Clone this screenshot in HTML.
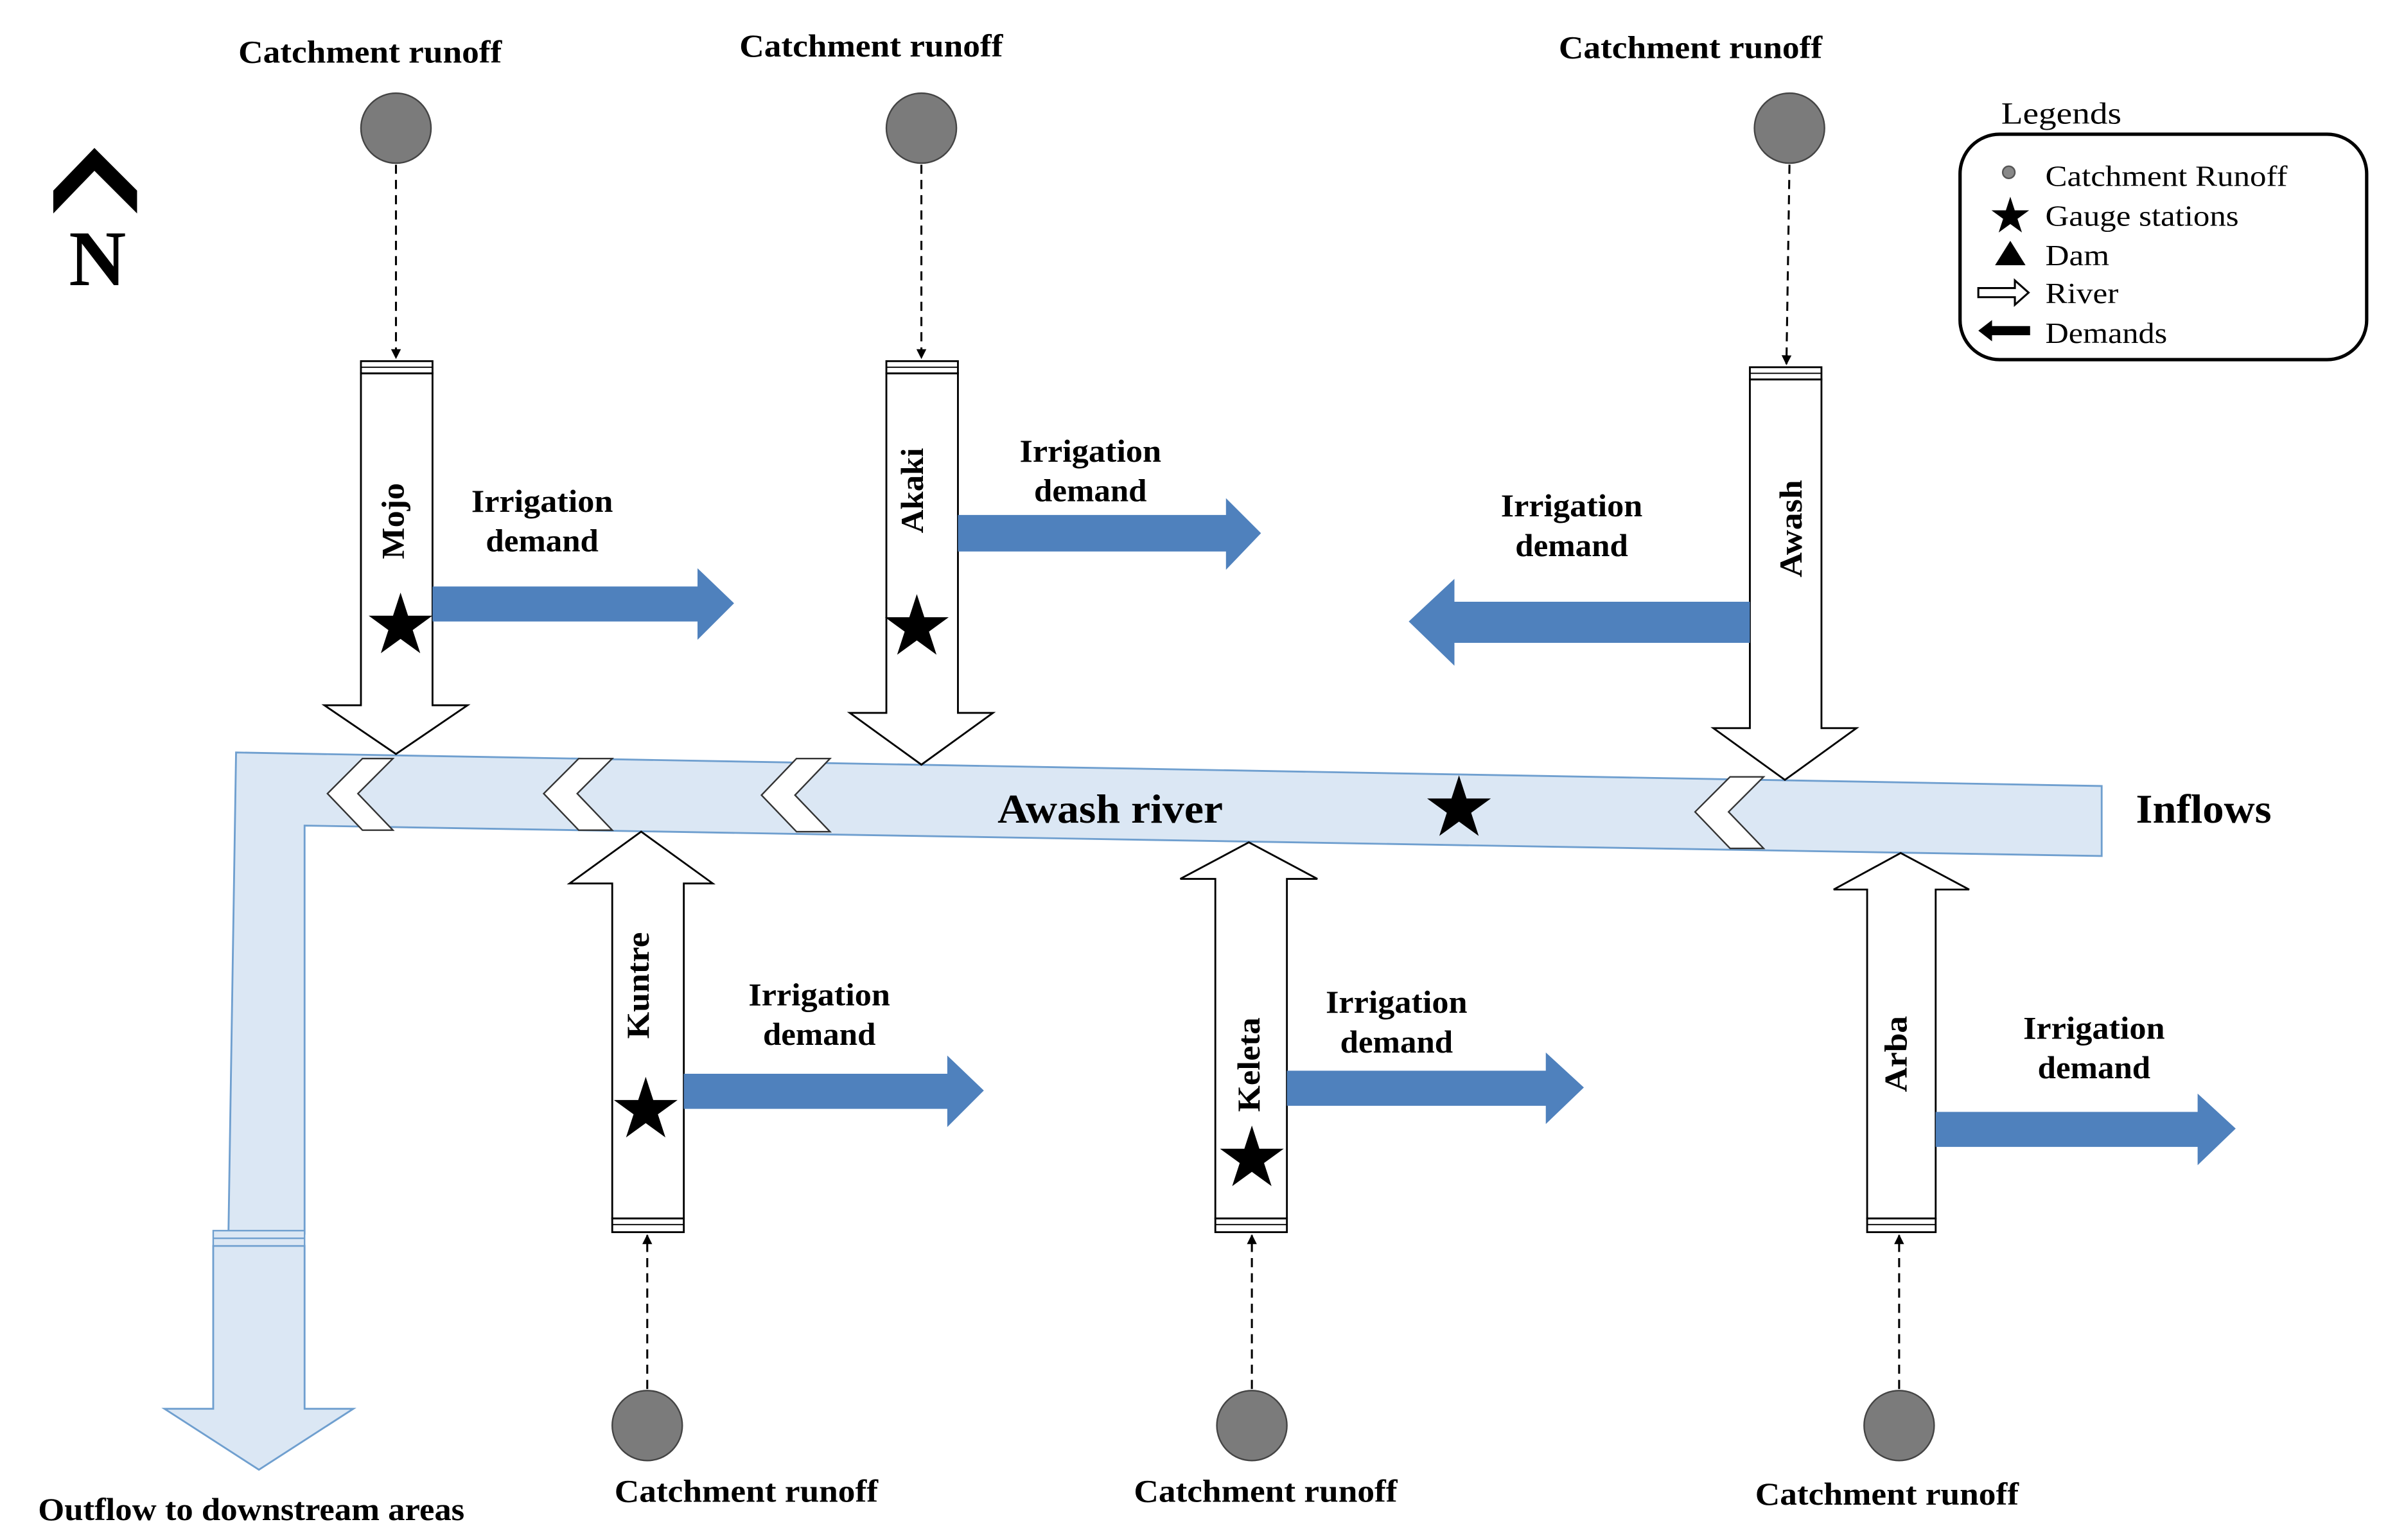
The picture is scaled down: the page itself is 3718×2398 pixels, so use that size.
<!DOCTYPE html>
<html><head><meta charset="utf-8"><style>
html,body{margin:0;padding:0;background:#fff}
svg{display:block}
text{font-family:"Liberation Serif",serif;font-weight:bold;fill:#000}
</style></head><body>
<svg width="3718" height="2398" viewBox="0 0 1568 1011" xmlns="http://www.w3.org/2000/svg">
<defs>
<marker id="ah" viewBox="0 0 10 10" refX="9" refY="5" markerWidth="5" markerHeight="7" orient="auto"><path d="M0,0 L10,5 L0,10 z" fill="#000"/></marker>
<symbol id="star" viewBox="-1 -1 2 2"><polygon points="0,-1 0.2245,-0.309 0.951,-0.309 0.363,0.118 0.588,0.809 0,0.382 -0.588,0.809 -0.363,0.118 -0.951,-0.309 -0.2245,-0.309" fill="#000"/></symbol>
</defs>

<!-- North -->
<polygon points="35,125 62,97 90,125 90,140 62,112 35,140" fill="#000"/>
<text x="64" y="187" font-size="52" text-anchor="middle">N</text>

<!-- River main -->
<path d="M155,494 L1380,516 L1380,562 L200,542 L200,810 L150,810 Z" fill="#dbe7f4" stroke="#6f9fcf" stroke-width="1.2"/>
<path d="M140,818 L200,818 L200,925 L232,925 L170,965 L108,925 L140,925 Z" fill="#dbe7f4" stroke="#6f9fcf" stroke-width="1.2"/>
<rect x="140" y="808" width="60" height="10" fill="#dbe7f4" stroke="#6f9fcf" stroke-width="1"/>
<line x1="140" y1="813" x2="200" y2="813" stroke="#6f9fcf" stroke-width="1"/>

<!-- Chevrons -->
<g fill="#fff" stroke="#333" stroke-width="1">
<polygon points="238,498 258,498 235,521 258,545 238,545 215,521"/>
<polygon points="380,498 402,498 379,521 402,545 380,545 357,521"/>
<polygon points="523,498 545,498 522,522 545,546 523,546 500,522"/>
<polygon points="1136,510 1158,510 1135,533 1158,557 1136,557 1113,533"/>
</g>

<!-- Downward tributaries -->
<g fill="#fff" stroke="#000" stroke-width="1.2">
<path d="M237,245 L284,245 L284,463 L307,463 L260,495 L213,463 L237,463 Z"/>
<rect x="237" y="237" width="47" height="8"/>
<path d="M582,245 L629,245 L629,468 L652,468 L605,502 L558,468 L582,468 Z"/>
<rect x="582" y="237" width="47" height="8"/>
<path d="M1149,249 L1196,249 L1196,478 L1219,478 L1172,512 L1125,478 L1149,478 Z"/>
<rect x="1149" y="241" width="47" height="8"/>
<path d="M402,800 L449,800 L449,580 L468,580 L421,546 L374,580 L402,580 Z"/>
<rect x="402" y="800" width="47" height="9"/>
<path d="M798,800 L845,800 L845,577 L865,577 L820,553 L775,577 L798,577 Z"/>
<rect x="798" y="800" width="47" height="9"/>
<path d="M1226,800 L1271,800 L1271,584 L1293,584 L1248,560 L1204,584 L1226,584 Z"/>
<rect x="1226" y="800" width="45" height="9"/>
</g>
<g stroke="#000" stroke-width="0.8">
<line x1="237" y1="241" x2="284" y2="241"/><line x1="582" y1="241" x2="629" y2="241"/><line x1="1149" y1="245" x2="1196" y2="245"/>
<line x1="402" y1="804" x2="449" y2="804"/><line x1="798" y1="804" x2="845" y2="804"/><line x1="1226" y1="804" x2="1271" y2="804"/>
</g>

<!-- Demand arrows -->
<g fill="#4f81bd">
<polygon points="284,385 458,385 458,373 482,396 458,420 458,408 284,408"/>
<polygon points="629,338 805,338 805,327 828,350 805,374 805,362 629,362"/>
<polygon points="1149,395 955,395 955,380 925,408 955,437 955,422 1149,422"/>
<polygon points="449,705 622,705 622,693 646,716 622,740 622,728 449,728"/>
<polygon points="845,703 1015,703 1015,691 1040,714 1015,738 1015,726 845,726"/>
<polygon points="1271,730 1443,730 1443,718 1468,741 1443,765 1443,753 1271,753"/>
</g>

<!-- Circles and dashed -->
<g fill="#7b7b7b" stroke="#444" stroke-width="1">
<circle cx="260" cy="84" r="23"/><circle cx="605" cy="84" r="23"/><circle cx="1175" cy="84" r="23"/>
<circle cx="425" cy="936" r="23"/><circle cx="822" cy="936" r="23"/><circle cx="1247" cy="936" r="23"/>
</g>
<g stroke="#000" stroke-width="1.3" stroke-dasharray="6,4" marker-end="url(#ah)">
<line x1="260" y1="108" x2="260" y2="235"/>
<line x1="605" y1="108" x2="605" y2="235"/>
<line x1="1175" y1="108" x2="1173" y2="239"/>
<line x1="425" y1="912" x2="425" y2="811"/>
<line x1="822" y1="912" x2="822" y2="811"/>
<line x1="1247" y1="912" x2="1247" y2="811"/>
</g>

<!-- Stars -->
<use href="#star" x="241" y="389" width="44" height="44"/>
<use href="#star" x="580" y="390" width="44" height="44"/>
<use href="#star" x="936" y="509" width="44" height="44"/>
<use href="#star" x="402" y="707" width="44" height="44"/>
<use href="#star" x="800" y="739" width="44" height="44"/>

<!-- River names -->
<g font-size="21" lengthAdjust="spacingAndGlyphs">
<text transform="translate(265,342) rotate(-90)" text-anchor="middle" textLength="50" lengthAdjust="spacingAndGlyphs">Mojo</text>
<text transform="translate(606,322) rotate(-90)" text-anchor="middle" textLength="56" lengthAdjust="spacingAndGlyphs">Akaki</text>
<text transform="translate(1183,347) rotate(-90)" text-anchor="middle" textLength="64" lengthAdjust="spacingAndGlyphs">Awash</text>
<text transform="translate(426,647) rotate(-90)" text-anchor="middle" textLength="70" lengthAdjust="spacingAndGlyphs">Kuntre</text>
<text transform="translate(827,699) rotate(-90)" text-anchor="middle" textLength="62" lengthAdjust="spacingAndGlyphs">Keleta</text>
<text transform="translate(1252,692) rotate(-90)" text-anchor="middle" textLength="50" lengthAdjust="spacingAndGlyphs">Arba</text>
</g>

<!-- Labels -->
<g font-size="21" text-anchor="middle">
<text x="243" y="41" textLength="173" lengthAdjust="spacingAndGlyphs">Catchment runoff</text>
<text x="572" y="37" textLength="173" lengthAdjust="spacingAndGlyphs">Catchment runoff</text>
<text x="1110" y="38" textLength="173" lengthAdjust="spacingAndGlyphs">Catchment runoff</text>
<text x="490" y="986" textLength="173" lengthAdjust="spacingAndGlyphs">Catchment runoff</text>
<text x="831" y="986" textLength="173" lengthAdjust="spacingAndGlyphs">Catchment runoff</text>
<text x="1239" y="988" textLength="173" lengthAdjust="spacingAndGlyphs">Catchment runoff</text>
<text x="165" y="998" textLength="280" lengthAdjust="spacingAndGlyphs">Outflow to downstream areas</text>
<text x="356" y="336" textLength="93" lengthAdjust="spacingAndGlyphs">Irrigation</text><text x="356" y="362" textLength="74" lengthAdjust="spacingAndGlyphs">demand</text>
<text x="716" y="303" textLength="93" lengthAdjust="spacingAndGlyphs">Irrigation</text><text x="716" y="329" textLength="74" lengthAdjust="spacingAndGlyphs">demand</text>
<text x="1032" y="339" textLength="93" lengthAdjust="spacingAndGlyphs">Irrigation</text><text x="1032" y="365" textLength="74" lengthAdjust="spacingAndGlyphs">demand</text>
<text x="538" y="660" textLength="93" lengthAdjust="spacingAndGlyphs">Irrigation</text><text x="538" y="686" textLength="74" lengthAdjust="spacingAndGlyphs">demand</text>
<text x="917" y="665" textLength="93" lengthAdjust="spacingAndGlyphs">Irrigation</text><text x="917" y="691" textLength="74" lengthAdjust="spacingAndGlyphs">demand</text>
<text x="1375" y="682" textLength="93" lengthAdjust="spacingAndGlyphs">Irrigation</text><text x="1375" y="708" textLength="74" lengthAdjust="spacingAndGlyphs">demand</text>
</g>
<text x="729" y="540" font-size="27" text-anchor="middle" textLength="148" lengthAdjust="spacingAndGlyphs">Awash river</text>
<text x="1447" y="540" font-size="27" text-anchor="middle" textLength="89" lengthAdjust="spacingAndGlyphs">Inflows</text>

<!-- Legend -->
<text x="1314" y="81" font-size="20" style="font-weight:normal" textLength="79" lengthAdjust="spacingAndGlyphs">Legends</text>
<rect x="1287" y="88" width="267" height="148" rx="26" fill="#fff" stroke="#000" stroke-width="2.2"/>
<g font-size="19">
<circle cx="1319" cy="113" r="4" fill="#888" stroke="#555"/>
<text x="1343" y="122" style="font-weight:normal" textLength="159" lengthAdjust="spacingAndGlyphs">Catchment Runoff</text>
<use href="#star" x="1307" y="129" width="26" height="26"/>
<text x="1343" y="148" style="font-weight:normal" textLength="127" lengthAdjust="spacingAndGlyphs">Gauge stations</text>
<polygon points="1320,158 1330,174 1310,174" fill="#000"/>
<text x="1343" y="174" style="font-weight:normal" textLength="42" lengthAdjust="spacingAndGlyphs">Dam</text>
<path d="M1299,189 L1323,189 L1323,184 L1332,192 L1323,200 L1323,195 L1299,195 Z" fill="#fff" stroke="#000" stroke-width="1.3"/>
<text x="1343" y="199" style="font-weight:normal" textLength="48" lengthAdjust="spacingAndGlyphs">River</text>
<path d="M1333,214 L1308,214 L1308,210 L1299,217 L1308,224 L1308,220 L1333,220 Z" fill="#000"/>
<text x="1343" y="225" style="font-weight:normal" textLength="80" lengthAdjust="spacingAndGlyphs">Demands</text>
</g>
</svg>
</body></html>
